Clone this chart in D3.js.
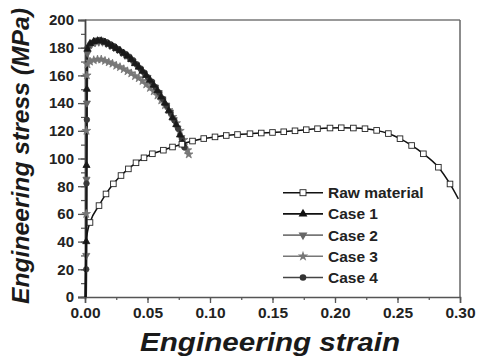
<!DOCTYPE html>
<html><head><meta charset="utf-8">
<script src="https://cdn.jsdelivr.net/npm/d3@7"></script>
<style>body{margin:0;background:#fff}svg{display:block}text{font-family:"Liberation Sans",Arial,sans-serif}</style>
</head><body><svg id="c" width="479" height="356"></svg>
<script>
const xTicks=[0,0.05,0.10,0.15,0.20,0.25,0.30];
const yTicks=[0,20,40,60,80,100,120,140,160,180,200];
const seriesNames=["Raw material","Case 1","Case 2","Case 3","Case 4"];

const rawStrain=[0,0.0005,0.001,0.002,0.004,0.0112,0.0168,0.0227,0.0288,0.0347,0.0408,0.0472,0.0539,0.0627,0.0700,0.0775,0.086,0.095,0.104,0.113,0.122,0.132,0.141,0.150,0.159,0.168,0.177,0.186,0.196,0.205,0.2147,0.224,0.2333,0.2427,0.252,0.2613,0.2707,0.2827,0.292,0.2987];
const rawStress=[0,25,40,47,53.8,66,74.4,81.7,87.7,92.5,96.9,100.5,103.4,106,108.3,110.3,112.6,114.4,115.6,116.6,117.3,117.9,118.4,118.8,119.3,120,120.8,121.5,122,122.2,122,121.5,120.3,118,114.3,109.4,103.4,93.7,81.6,70.8];

const case1Strain=[0.0008,0.001,0.0012,0.0015,0.002,0.004,0.007,0.010,0.013,0.016,0.019,0.022,0.025,0.028,0.031,0.034,0.037,0.040,0.043,0.046,0.049,0.052,0.055,0.058,0.061,0.064,0.067,0.070,0.073,0.076,0.078];
const case1Stress=[0,40,95,150,179,183,184.5,185,185,184,182.5,181,179.5,178,176,174,171.5,168.5,166,163,160,156.5,153,149,144.5,140,134.5,129.5,124.5,117,111];

const case2Strain=[0.0008,0.001,0.0012,0.0015,0.002,0.005,0.008,0.011,0.014,0.017,0.020,0.023,0.026,0.029,0.032,0.035,0.038,0.041,0.044,0.047,0.050,0.053,0.056,0.059,0.062,0.065,0.068,0.071,0.074,0.077,0.079];
const case2Stress=[0,30,85,140,176,182,183.5,184,184,183,181.5,180,178.5,176.5,174.5,172.5,170,167.5,164.5,161.5,158.5,155,151.5,147.5,143,138.5,133.5,128,122,115,109];

const case3Strain=[0.0008,0.001,0.0012,0.0015,0.002,0.004,0.007,0.010,0.013,0.016,0.019,0.022,0.025,0.028,0.031,0.034,0.037,0.040,0.043,0.046,0.049,0.052,0.055,0.058,0.061,0.064,0.067,0.070,0.073,0.076,0.079,0.082,0.083];
const case3Stress=[0,60,120,160,168,170,171,171.5,171.5,170.5,169.5,168.5,167,166,164.5,163,161.5,159.5,158,156,153.5,151,148.5,145.5,142,138.5,135,130,125.5,120,113.5,106,103];

const case4Strain=[0.0008,0.001,0.0012,0.0015,0.002,0.0055,0.0085,0.0115,0.0145,0.0175,0.0205,0.0235,0.0265,0.0295,0.0325,0.0355,0.0385,0.0415,0.0445,0.0475,0.0505,0.0535,0.0565,0.0595,0.0625,0.0655,0.0685,0.0715,0.0745,0.0775,0.0795];
const case4Stress=[0,20,82,128,180,183.5,185,185.5,185,184,182.5,181,179,177,175.5,173.5,171,168,165,162,158.5,155.5,151.5,147.5,143,138,133,127.5,121.5,114,108];

const W=479,H=356;
const m={l:85,r:460,t:20,b:297};
const x=d3.scaleLinear().domain([0,0.30]).range([m.l,m.r]);
const y=d3.scaleLinear().domain([0,200]).range([m.b,m.t]);
const svg=d3.select("#c");

// frame
svg.append("line").attr("x1",m.l).attr("x2",m.r).attr("y1",m.t).attr("y2",m.t).attr("stroke","#777").attr("stroke-width",1.5);
svg.append("line").attr("x1",m.r).attr("x2",m.r).attr("y1",m.t).attr("y2",m.b).attr("stroke","#666").attr("stroke-width",1.5);

// axes
const xMinor=d3.range(0,0.3001,0.025);
svg.append("g").attr("transform",`translate(0,${m.b})`)
  .call(d3.axisBottom(x).tickValues(xMinor).tickSize(3).tickFormat(""))
  .call(g=>{g.select(".domain").remove();g.selectAll("line").attr("stroke","#555").attr("stroke-width",1.2);});
const xa=svg.append("g").attr("transform",`translate(0,${m.b})`)
  .call(d3.axisBottom(x).tickValues(xTicks).tickSize(6).tickPadding(4).tickFormat(d3.format(".2f")));
xa.select(".domain").attr("stroke","#555").attr("stroke-width",1.5);
xa.selectAll("line").attr("stroke","#555").attr("stroke-width",1.3);
xa.selectAll("text").attr("fill","#222").style("font-size","15.5px").style("font-weight","bold");

const yMinor=d3.range(0,200.1,10);
svg.append("g").attr("transform",`translate(${m.l},0)`)
  .call(d3.axisLeft(y).tickValues(yMinor).tickSize(4).tickFormat(""))
  .call(g=>{g.select(".domain").remove();g.selectAll("line").attr("stroke","#555").attr("stroke-width",1.2);});
const ya=svg.append("g").attr("transform",`translate(${m.l},0)`)
  .call(d3.axisLeft(y).tickValues(yTicks).tickSize(7).tickPadding(4));
ya.select(".domain").attr("stroke","#444").attr("stroke-width",1.8);
ya.selectAll("line").attr("stroke","#555").attr("stroke-width",1.3);
ya.selectAll("text").attr("fill","#222").style("font-size","15px").style("font-weight","bold");

// titles
svg.append("text").attr("x",270).attr("y",351).attr("text-anchor","middle")
  .attr("textLength",260).attr("lengthAdjust","spacingAndGlyphs")
  .style("font-size","26px").style("font-weight","bold").style("font-style","italic").attr("fill","#1a1a1a")
  .text("Engineering strain");
svg.append("text").attr("transform","translate(29,156) rotate(-90)").attr("text-anchor","middle")
  .attr("textLength",296).attr("lengthAdjust","spacingAndGlyphs")
  .style("font-size","24px").style("font-weight","bold").style("font-style","italic").attr("fill","#1a1a1a")
  .text("Engineering stress (MPa)");

const line=d3.line().x(d=>x(d[0])).y(d=>y(d[1])).curve(d3.curveMonotoneX);
const zip=(a,b)=>a.map((v,i)=>[v,b[i]]);

const sym={
  tri:d3.symbol().type(d3.symbolTriangle).size(22),
  circ:d3.symbol().type(d3.symbolCircle).size(24),
  star:d3.symbol().type(d3.symbolStar).size(22),
  sq:d3.symbol().type(d3.symbolSquare).size(30)
};
function marks(data,path,fill,stroke,rot){
  svg.append("g").selectAll("path").data(data).join("path")
    .attr("d",path).attr("transform",d=>`translate(${x(d[0])},${y(d[1])})${rot?" rotate(180)":""}`)
    .attr("fill",fill).attr("stroke",stroke).attr("stroke-width",0.8);
}

const series=[
  {d:zip(case3Strain,case3Stress),c:"#7a7a7a",mf:"#777",sym:sym.star,rot:false,w:1.8},
  {d:zip(case2Strain,case2Stress),c:"#666",mf:"#666",sym:sym.tri,rot:true,w:2},
  {d:zip(case4Strain,case4Stress),c:"#3a3a3a",mf:"#3a3a3a",sym:sym.circ,rot:false,w:2},
  {d:zip(case1Strain,case1Stress),c:"#1a1a1a",mf:"#1a1a1a",sym:sym.tri,rot:false,w:1.8}
];
series.forEach(s=>{
  svg.append("path").datum(s.d).attr("d",line).attr("fill","none").attr("stroke",s.c).attr("stroke-width",s.w);
});
series.forEach(s=>{ marks(s.d.slice(1),s.sym,s.mf,s.mf,s.rot); });

const raw=zip(rawStrain,rawStress);
svg.append("path").datum(raw).attr("d",line).attr("fill","none").attr("stroke","#111").attr("stroke-width",1.5);
svg.append("g").selectAll("rect").data(raw.slice(4,raw.length-1)).join("rect")
  .attr("x",d=>x(d[0])-2.8).attr("y",d=>y(d[1])-2.8).attr("width",5.6).attr("height",5.6)
  .attr("fill","#fff").attr("stroke","#222").attr("stroke-width",0.9);

// legend
const leg=[
  {c:"#111",f:"#fff",s:"sq",rot:false},
  {c:"#111",f:"#111",s:"tri",rot:false},
  {c:"#777",f:"#666",s:"tri",rot:true},
  {c:"#777",f:"#777",s:"star",rot:false},
  {c:"#444",f:"#333",s:"circ",rot:false}
];
const lg=svg.append("g");
seriesNames.forEach((n,i)=>{
  const cy=192.7+i*21.2;
  const L=leg[i];
  lg.append("line").attr("x1",283).attr("x2",323).attr("y1",cy).attr("y2",cy).attr("stroke",L.c).attr("stroke-width",1.6);
  if(L.s==="sq"){
    lg.append("rect").attr("x",300).attr("y",cy-3).attr("width",6).attr("height",6).attr("fill","#fff").attr("stroke","#222").attr("stroke-width",0.9);
  } else {
    lg.append("path").attr("d",d3.symbol().type(L.s==="tri"?d3.symbolTriangle:L.s==="star"?d3.symbolStar:d3.symbolCircle).size(34))
      .attr("transform",`translate(303,${cy})${L.rot?" rotate(180)":""}`).attr("fill",L.f);
  }
  lg.append("text").attr("x",328).attr("y",cy+5.5).style("font-size","15.5px").style("font-weight","bold").attr("fill","#222").text(n);
});
</script></body></html>
